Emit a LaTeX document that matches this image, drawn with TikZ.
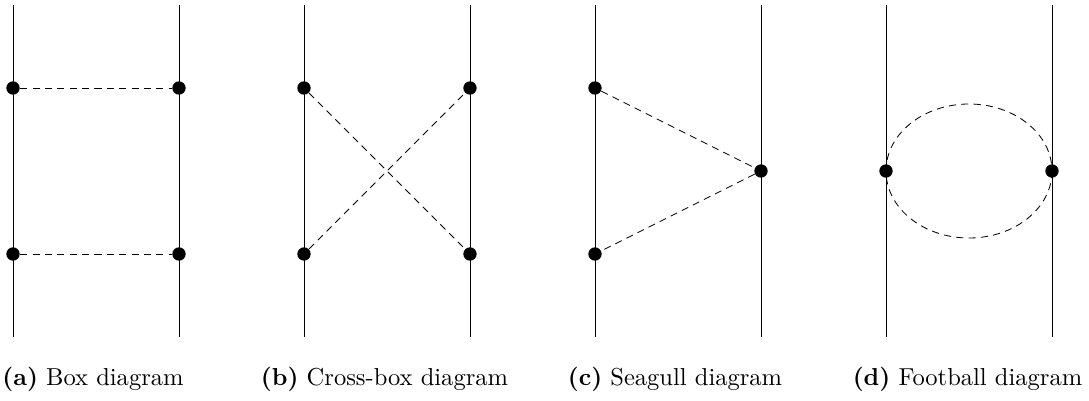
\documentclass[tikz,border=0pt]{standalone}
\usetikzlibrary{calc}
\begin{document}
\begin{tikzpicture}[x=0.42pt,y=-0.42pt,
  line/.style={line width=0.35pt},
  prop/.style={line width=0.35pt,dash pattern=on 3pt off 2.2pt},
  vtx/.style={circle,fill=black,inner sep=0pt,minimum size=5.6pt},
  subcap/.style={anchor=base,font=\fontsize{10.3}{12.5}\selectfont}]
\useasboundingbox (0,0) rectangle (1089,401);
% (a) box
\coordinate (a1t) at (13,5);  \coordinate (a1b) at (13,337);
\coordinate (a2t) at (179,5); \coordinate (a2b) at (179,337);
\draw[line] (a1t) -- (a1b); \draw[line] (a2t) -- (a2b);
\node[vtx] (a11) at (13,88) {}; \node[vtx] (a12) at (13,254) {};
\node[vtx] (a21) at (179,88) {}; \node[vtx] (a22) at (179,254) {};
\draw[prop] (a11) -- (a21); \draw[prop] (a12) -- (a22);
\node[subcap] (capa) at (93,385) {\textbf{(a)} Box diagram};
% (b) cross-box
\coordinate (b1t) at (304,5);  \coordinate (b1b) at (304,337);
\coordinate (b2t) at (470,5); \coordinate (b2b) at (470,337);
\draw[line] (b1t) -- (b1b); \draw[line] (b2t) -- (b2b);
\node[vtx] (b11) at (304,88) {}; \node[vtx] (b12) at (304,254) {};
\node[vtx] (b21) at (470,88) {}; \node[vtx] (b22) at (470,254) {};
\draw[prop] (b11) -- (b22); \draw[prop] (b12) -- (b21);
\node[subcap] (capb) at (384.5,385) {\textbf{(b)} Cross-box diagram};
% (c) seagull
\coordinate (c1t) at (595,5);  \coordinate (c1b) at (595,337);
\coordinate (c2t) at (761,5); \coordinate (c2b) at (761,337);
\draw[line] (c1t) -- (c1b); \draw[line] (c2t) -- (c2b);
\node[vtx] (c11) at (595,88) {}; \node[vtx] (c12) at (595,254) {};
\node[vtx] (c2) at (761,171) {};
\draw[prop] (c11) -- (c2) -- (c12);
\node[subcap] (capc) at (675,385) {\textbf{(c)} Seagull diagram};
% (d) football
\coordinate (d1t) at (886,5);  \coordinate (d1b) at (886,337);
\coordinate (d2t) at (1052,5); \coordinate (d2b) at (1052,337);
\draw[line] (d1t) -- (d1b); \draw[line] (d2t) -- (d2b);
\draw[prop] (969,171) ellipse [x radius=83, y radius=67];
\node[vtx] (d1) at (886,171) {}; \node[vtx] (d2) at (1052,171) {};
\node[subcap] (capd) at (967.5,385) {\textbf{(d)} Football diagram};
\end{tikzpicture}
\end{document}
